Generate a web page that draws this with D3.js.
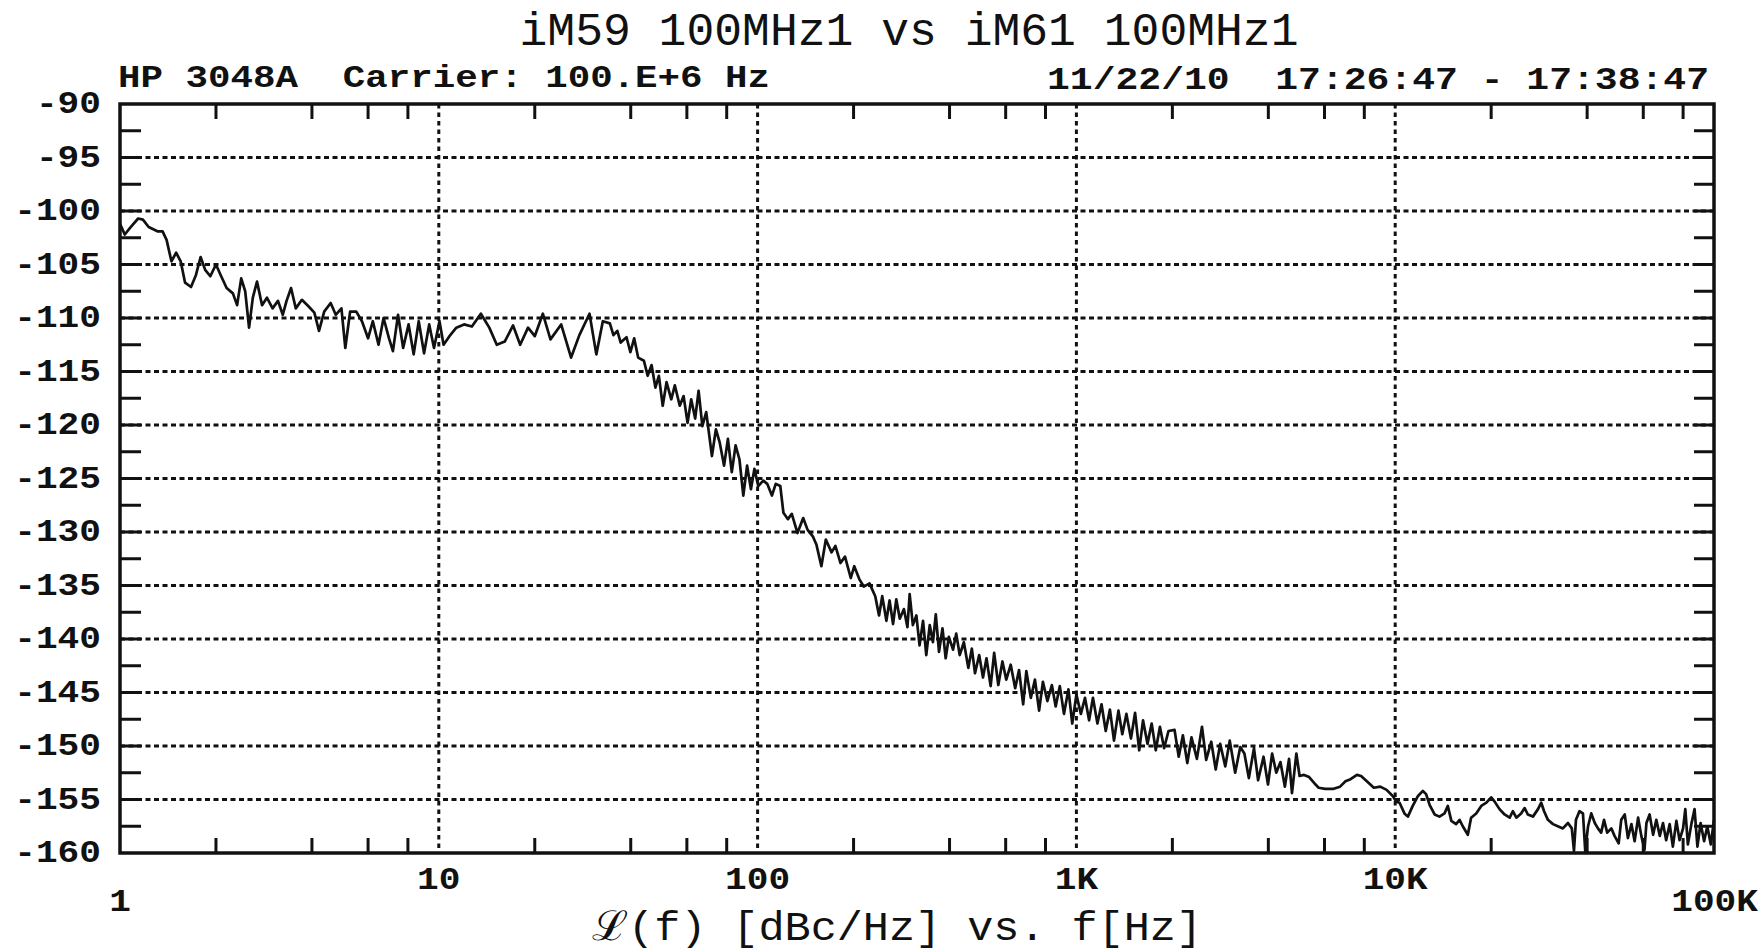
<!DOCTYPE html>
<html>
<head>
<meta charset="utf-8">
<script src="https://cdn.jsdelivr.net/npm/d3@7"></script>
<style>
  body { margin: 0; background: #fff; }
  svg { display: block; }
  text { white-space: pre; fill: #111; }
  .thin { font-family: "Liberation Mono", "DejaVu Sans Mono", monospace; }
  .bold { font-family: "Liberation Mono", "DejaVu Sans Mono", monospace; font-weight: bold; }
</style>
</head>
<body>
<svg id="chart" width="1763" height="952"></svg>
<script>
const title = "iM59 100MHz1 vs iM61 100MHz1";
const headerLeft = "HP 3048A  Carrier: 100.E+6 Hz";
const headerRight = "11/22/10  17:26:47 - 17:38:47";
const xTitle = "\u2112(f) [dBc/Hz] vs. f[Hz]";

const yTicks = [-90, -95, -100, -105, -110, -115, -120, -125, -130, -135, -140, -145, -150, -155, -160];
const xDecades = [1, 10, 100, 1000, 10000, 100000];
const xLabels = ["1", "10", "100", "1K", "10K", "100K"];
const minorSteps = [2, 4, 6, 8];

// [offset frequency Hz, L(f) dBc/Hz]
const trace = [
  [1, -101.2], [1.035, -102.2], [1.08, -101.5], [1.14, -100.7], [1.18, -100.8], [1.23, -101.5],
  [1.31, -101.9], [1.36, -101.9], [1.40, -102.7], [1.45, -104.7], [1.50, -103.9], [1.55, -104.7],
  [1.60, -106.7], [1.67, -107.1], [1.73, -106.0], [1.79, -104.3], [1.85, -105.5], [1.92, -106.1],
  [2.00, -105.0], [2.07, -106.0], [2.16, -107.2], [2.26, -107.7], [2.33, -108.8], [2.40, -106.3],
  [2.47, -107.5], [2.54, -110.9], [2.61, -108.1], [2.69, -106.6], [2.79, -108.8], [2.89, -108.1],
  [3.01, -109.1], [3.13, -108.4], [3.24, -109.7], [3.33, -108.4], [3.44, -107.2], [3.56, -109.1],
  [3.72, -108.3], [3.90, -108.9], [4.07, -109.5], [4.21, -111.2], [4.37, -109.4], [4.58, -108.6],
  [4.75, -109.7], [4.95, -109.1], [5.09, -112.8], [5.27, -109.4], [5.51, -109.4], [5.74, -110.3],
  [6.00, -111.9], [6.21, -110.3], [6.47, -112.5], [6.71, -110.0], [6.98, -111.9], [7.18, -113.1],
  [7.45, -109.7], [7.73, -112.8], [8.04, -110.6], [8.34, -113.4], [8.65, -110.3], [8.99, -113.3],
  [9.33, -110.6], [9.66, -112.8], [10.05, -110.3], [10.35, -112.5], [10.8, -111.7], [11.35, -110.9],
  [12.0, -110.6], [12.7, -110.8], [13.55, -109.6], [14.4, -110.9], [15.2, -112.5], [16.1, -112.2],
  [17.1, -110.7], [18.0, -112.5], [19.05, -110.9], [20.0, -111.7], [21.2, -109.6], [22.4, -112.0],
  [24.2, -110.6], [26.0, -113.7], [27.6, -111.6], [29.7, -109.6], [31.2, -113.4], [32.7, -110.3],
  [34.4, -110.5], [35.3, -111.6], [36.3, -111.2], [37.2, -112.3], [38.8, -111.8], [39.9, -113.2],
  [41.0, -111.9], [42.2, -113.7], [44.0, -114.0], [45.2, -115.4], [46.5, -114.4], [47.8, -116.5],
  [49.0, -115.4], [50.4, -118.2], [51.8, -116.0], [53.6, -117.6], [55.0, -116.3], [57.0, -118.2],
  [58.6, -117.3], [60.3, -119.8], [61.9, -117.6], [63.7, -119.4], [65.3, -116.8], [67.1, -120.1],
  [69.0, -118.8], [71.9, -122.9], [74.0, -120.4], [76.0, -121.6], [78.5, -123.8], [80.7, -121.3],
  [83.0, -124.4], [85.3, -121.9], [87.7, -123.2], [90.2, -126.6], [92.7, -123.8], [95.3, -126.0],
  [97.7, -124.1], [100.5, -125.7], [104.2, -125.2], [107.2, -125.5], [110.9, -126.6], [114.0, -125.5],
  [117.8, -125.7], [120.5, -128.2], [124.5, -128.8], [128, -128.3], [133.4, -130.1], [139, -128.7],
  [143.5, -129.8], [149, -130.4], [153, -131.2], [158.5, -133.2], [163.7, -130.7], [170.6, -131.9],
  [175.4, -131.3], [182, -132.9], [188, -132.3], [196, -134.3], [201, -133.2], [208.4, -134.4],
  [215.3, -135.1], [224.4, -134.8], [233.9, -136.0],
  [240.4, -137.8], [246, -136.0], [253.5, -138.3], [259.4, -136.4], [266, -138.6], [272.3, -136.3],
  [279.3, -138.1], [287.7, -137.2], [295.1, -138.9], [299.9, -135.8], [306.9, -138.7], [314.8, -137.8],
  [322.1, -140.6], [330.4, -138.3], [338.1, -141.5], [346.7, -138.7], [354.8, -140.3], [362.2, -137.7],
  [370.7, -141.2], [380.2, -139.0], [389, -141.8], [398.1, -139.8], [410.2, -141.0], [419.8, -139.5],
  [430.5, -141.5], [443.6, -140.3], [458.1, -142.7], [469.9, -140.9], [480.8, -143.2], [495.5, -141.5],
  [509.3, -143.6], [522.4, -141.8], [538.3, -144.4], [552.1, -141.3], [568.9, -144.3], [586.1, -142.1],
  [602.6, -143.8], [622.3, -142.4], [642.7, -144.6], [660.7, -142.9], [680.8, -146.1], [696.6, -143.0],
  [719.5, -145.5], [741.3, -143.8], [763.8, -146.7], [785.2, -144.0], [810.9, -145.8], [837.5, -144.3],
  [861, -146.3], [887.2, -144.4], [914.1, -147.0], [944.1, -144.7], [970.5, -147.9], [1000, -145.2],
  [1033, -147.0], [1064, -145.5], [1096, -147.6], [1127, -145.5], [1164, -147.9], [1199, -146.1],
  [1236, -148.6], [1274, -146.6], [1312, -149.5], [1355, -146.7], [1393, -148.9], [1435, -147.0],
  [1483, -149.3], [1528, -146.9], [1574, -150.4], [1618, -147.6], [1671, -149.8], [1722, -147.9],
  [1774, -150.4], [1828, -148.2], [1884, -150.2], [1945, -148.6],
  [2032, -148.5], [2094, -151.0], [2158, -149.0], [2228, -151.6], [2296, -149.2], [2388, -151.2],
  [2477, -148.2], [2553, -151.3], [2649, -149.6], [2735, -152.2], [2825, -149.8], [2931, -151.9],
  [3027, -149.5], [3148, -152.5], [3266, -150.1], [3365, -150.7], [3475, -153.0], [3606, -150.2],
  [3715, -153.2], [3864, -151.0], [3990, -153.6], [4111, -150.7], [4236, -152.5], [4366, -151.5],
  [4508, -153.8], [4645, -151.2], [4745, -154.4], [4898, -150.7], [5012, -152.8], [5176, -152.7],
  [5370, -152.9], [5585, -153.5], [5754, -153.9], [6026, -154.0], [6412, -154.0], [6714, -153.8],
  [6982, -153.3], [7244, -153.1], [7586, -152.7], [7817, -152.8], [8147, -153.3], [8570, -153.9],
  [8977, -153.8], [9397, -154.1], [9840, -154.7],
  [10070, -155.2], [10320, -155.3], [10690, -156.3], [10960, -156.6], [11350, -155.6], [11770, -154.7],
  [12210, -154.2], [12500, -154.5], [12820, -155.5], [13290, -156.4], [13770, -156.6], [14280, -156.3],
  [14620, -155.6], [15000, -157.0], [15520, -157.3], [15920, -156.9], [16290, -157.5], [16900, -158.3],
  [17300, -156.7], [17950, -156.3], [18620, -155.6], [19320, -155.3], [20000, -154.8], [20510, -155.2],
  [21240, -155.9], [22030, -156.4], [22860, -156.7], [23390, -156.1], [23990, -156.7], [24830, -156.3],
  [25470, -155.8], [26060, -156.4], [27040, -156.6], [28050, -155.9], [28710, -155.3], [29310, -156.1],
  [30130, -156.9], [31260, -157.3], [32360, -157.5], [33570, -157.7], [34830, -157.2], [35810, -157.7],
  [36370, -159.8], [36900, -156.9], [37840, -156.1], [38810, -156.3], [39450, -159.8], [40270, -157.5],
  [41210, -156.3], [42270, -157.2], [43250, -157.7], [44260, -158.1], [45190, -156.9], [46240, -158.1],
  [47640, -157.7], [48750, -158.4], [50230, -159.1], [51170, -156.9], [52480, -156.4], [53700, -158.6],
  [55080, -157.3], [56360, -158.9], [57810, -156.7], [59160, -158.4], [60530, -159.7], [61380, -157.2],
  [62810, -156.4], [64420, -158.3], [65920, -156.9], [67610, -158.4], [69180, -157.2], [70790, -158.8],
  [72610, -157.3], [74300, -159.4], [76210, -157.0], [77980, -158.8], [79980, -157.7], [81280, -155.9],
  [82790, -159.2], [84920, -157.3], [86900, -155.9], [88720, -159.4], [90780, -157.2], [93110, -158.9],
  [95280, -157.5], [97720, -159.2], [100000, -156.9]
];

const margin = {left: 120, right: 49, top: 104, bottom: 99};
const width = 1763, height = 952;
const svg = d3.select("#chart");

const x = d3.scaleLog()
  .domain([1, 1e5])
  .range([margin.left, width - margin.right]);
const y = d3.scaleLinear()
  .domain([-160, -90])
  .range([height - margin.bottom, margin.top]);

const [x0, x1] = x.range();
const [y0, y1] = y.range();

// dotted grid
const grid = svg.append("g")
  .attr("stroke", "#111")
  .attr("stroke-width", 3);
grid.selectAll("line.hgrid")
  .data(yTicks.filter(v => v > -160 && v < -90))
  .join("line")
  .attr("class", "hgrid")
  .attr("x1", x0).attr("x2", x1)
  .attr("y1", d => y(d)).attr("y2", d => y(d))
  .attr("stroke-dasharray", "5,3.5");
grid.selectAll("line.vgrid")
  .data(xDecades.slice(1, -1))
  .join("line")
  .attr("class", "vgrid")
  .attr("x1", d => x(d)).attr("x2", d => x(d))
  .attr("y1", y1).attr("y2", y0)
  .attr("stroke-dasharray", "4.5,4");

// ticks
const minorX = [];
xDecades.slice(0, -1).forEach(d => minorSteps.forEach(m => minorX.push(d * m)));
const ticks = svg.append("g")
  .attr("stroke", "#111")
  .attr("stroke-width", 3);
ticks.selectAll("line.xb")
  .data(minorX).join("line")
  .attr("x1", d => x(d)).attr("x2", d => x(d))
  .attr("y1", y0).attr("y2", y0 - 15);
ticks.selectAll("line.xt")
  .data(minorX).join("line")
  .attr("x1", d => x(d)).attr("x2", d => x(d))
  .attr("y1", y1).attr("y2", y1 + 15);
const yMinor = d3.range(-157.5, -90, 2.5);
ticks.selectAll("line.yl")
  .data(yMinor).join("line")
  .attr("x1", x0).attr("x2", x0 + 21)
  .attr("y1", d => y(d)).attr("y2", d => y(d));
ticks.selectAll("line.yr")
  .data(yMinor).join("line")
  .attr("x1", x1).attr("x2", x1 - 20)
  .attr("y1", d => y(d)).attr("y2", d => y(d));

// trace
const line = d3.line()
  .x(d => x(d[0]))
  .y(d => y(d[1]));
svg.append("path")
  .datum(trace)
  .attr("fill", "none")
  .attr("stroke", "#111")
  .attr("stroke-width", 2.7)
  .attr("stroke-linejoin", "round")
  .attr("d", line);

// frame
svg.append("rect")
  .attr("x", x0).attr("y", y1)
  .attr("width", x1 - x0).attr("height", y0 - y1)
  .attr("fill", "none")
  .attr("stroke", "#111")
  .attr("stroke-width", 3.5);

// y labels
svg.append("g").selectAll("text")
  .data(yTicks).join("text")
  .attr("class", "bold")
  .attr("x", x0 - 19)
  .attr("y", d => y(d) + 9)
  .attr("text-anchor", "end")
  .attr("font-size", 31)
  .attr("textLength", d => String(d).length * 21.7)
  .attr("lengthAdjust", "spacingAndGlyphs")
  .text(d => String(d));

// x labels, the two end labels sit lower as on the HP plot
svg.append("g").selectAll("text")
  .data(xDecades).join("text")
  .attr("class", "bold")
  .attr("x", (d, i) => i === xDecades.length - 1 ? x(d) + 44 : x(d))
  .attr("y", (d, i) => (i === 0 || i === xDecades.length - 1) ? y0 + 58 : y0 + 36)
  .attr("text-anchor", (d, i) => i === xDecades.length - 1 ? "end" : "middle")
  .attr("font-size", 31)
  .attr("textLength", (d, i) => xLabels[i].length * 21.7)
  .attr("lengthAdjust", "spacingAndGlyphs")
  .text((d, i) => xLabels[i]);

// header texts
svg.append("text")
  .attr("class", "thin")
  .attr("x", 909).attr("y", 45)
  .attr("text-anchor", "middle")
  .attr("font-size", 46)
  .attr("textLength", 779)
  .attr("lengthAdjust", "spacingAndGlyphs")
  .text(title);
svg.append("text")
  .attr("class", "bold")
  .attr("x", 118).attr("y", 87)
  .attr("font-size", 31)
  .attr("textLength", 652)
  .attr("lengthAdjust", "spacingAndGlyphs")
  .text(headerLeft);
svg.append("text")
  .attr("class", "bold")
  .attr("x", 1709).attr("y", 89)
  .attr("text-anchor", "end")
  .attr("font-size", 31)
  .attr("textLength", 662)
  .attr("lengthAdjust", "spacingAndGlyphs")
  .text(headerRight);
svg.append("text")
  .attr("class", "thin")
  .attr("x", 897).attr("y", 940)
  .attr("text-anchor", "middle")
  .attr("font-size", 41)
  .attr("textLength", 610)
  .attr("lengthAdjust", "spacingAndGlyphs")
  .text(xTitle);
</script>
</body>
</html>
